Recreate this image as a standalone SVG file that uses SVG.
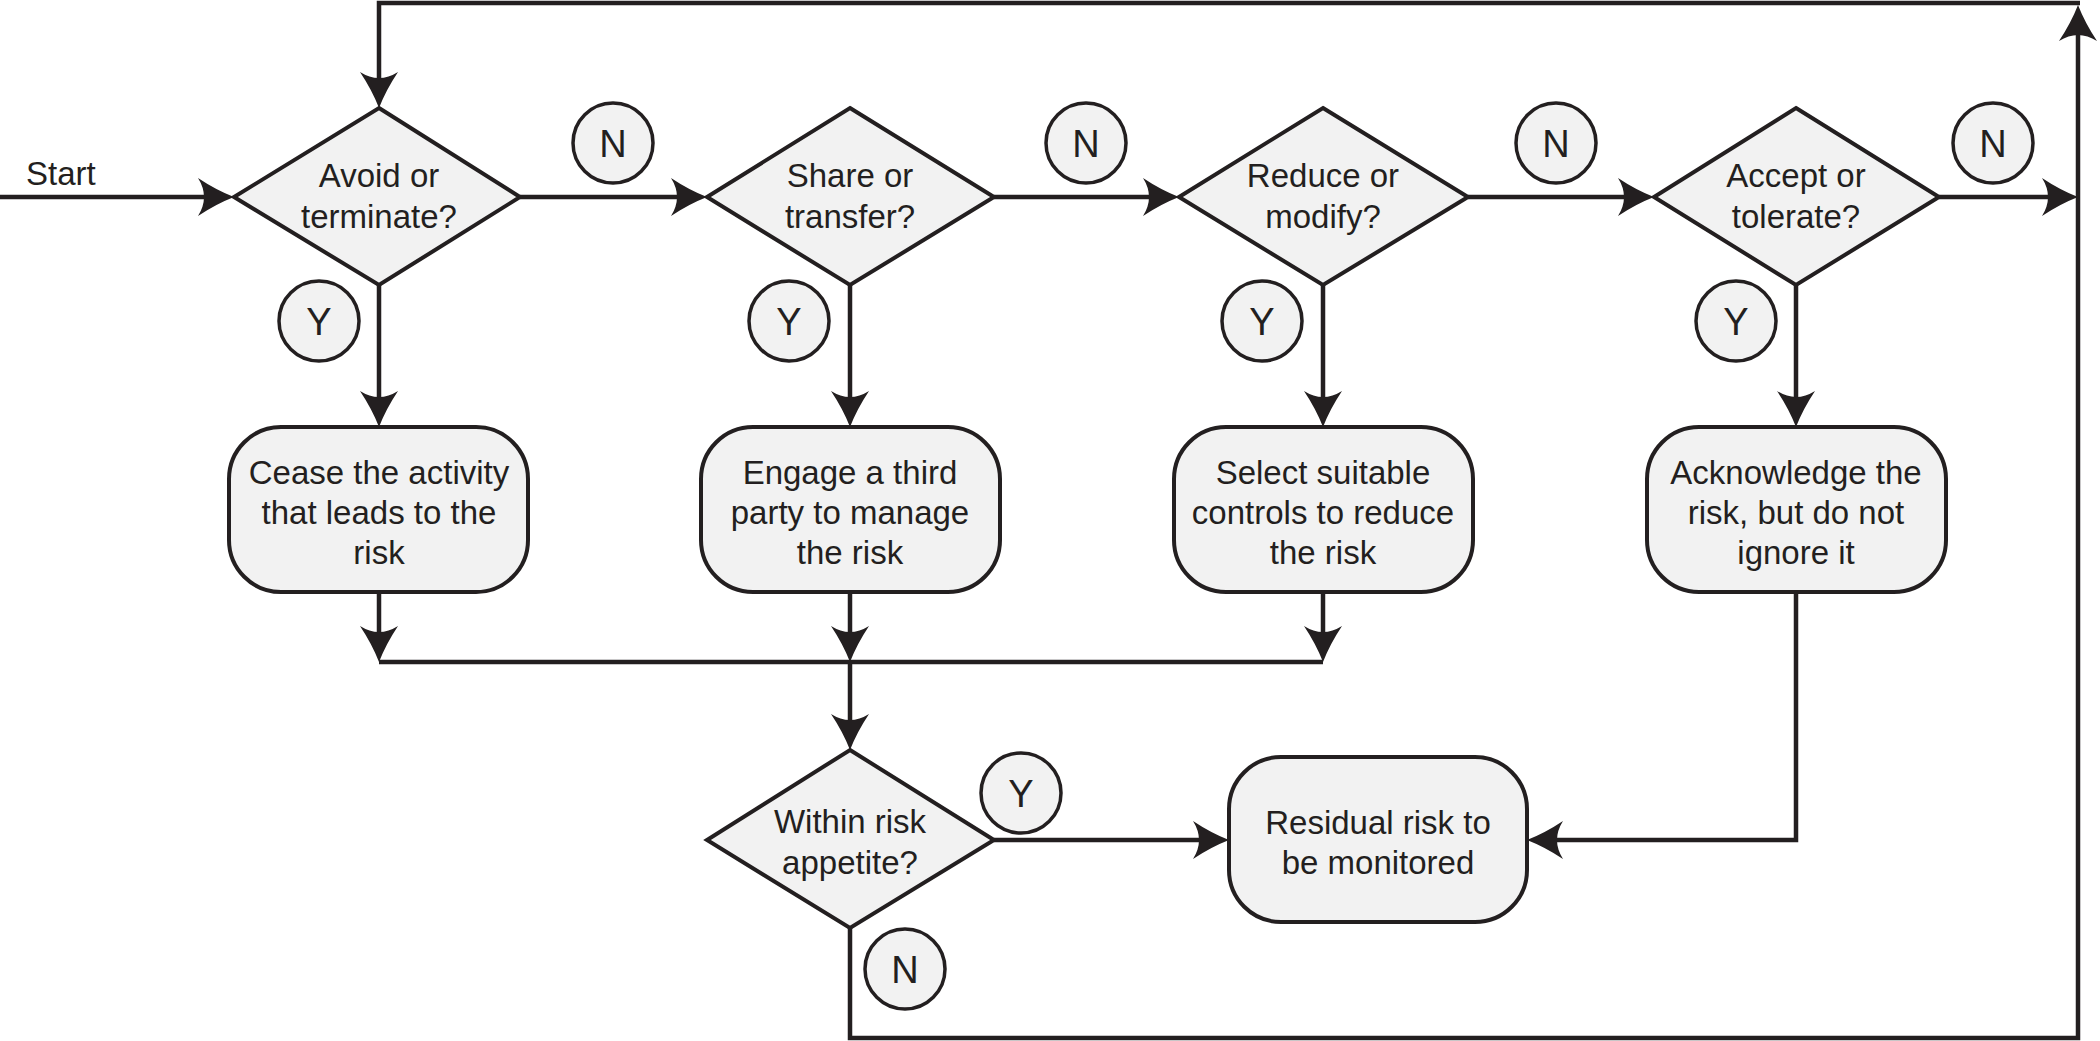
<svg xmlns="http://www.w3.org/2000/svg" width="2100" height="1041" viewBox="0 0 2100 1041">
<style>
.shape{fill:#f2f2f2;stroke:#231f20;stroke-width:4}
.circ{fill:#f2f2f2;stroke:#231f20;stroke-width:3.5}
.conn{fill:none;stroke:#231f20;stroke-width:4.5}
text{font-family:"Liberation Sans",Arial,sans-serif;fill:#231f20;text-anchor:middle}
.lbl{font-size:33px}
.yn{font-size:38px}
</style>
<defs>
<marker id="arr" markerUnits="userSpaceOnUse" markerWidth="60" markerHeight="60" refX="0" refY="0" orient="auto" overflow="visible" viewBox="-40 -30 60 60">
<path d="M10,0 Q-8,-7 -26,-19 Q-14,0 -26,19 Q-8,7 10,0 Z" fill="#231f20"/>
</marker>
</defs>
<rect width="2100" height="1041" fill="#ffffff"/>
<g id="connectors">
<path class="conn" d="M0,197 H224" marker-end="url(#arr)"/>
<path class="conn" d="M520,197 H697" marker-end="url(#arr)"/>
<path class="conn" d="M994,197 H1169" marker-end="url(#arr)"/>
<path class="conn" d="M1468,197 H1644" marker-end="url(#arr)"/>
<path class="conn" d="M1939,197 H2068" marker-end="url(#arr)"/>
<path class="conn" d="M379,285 V417" marker-end="url(#arr)"/>
<path class="conn" d="M850,285 V417" marker-end="url(#arr)"/>
<path class="conn" d="M1323,285 V417" marker-end="url(#arr)"/>
<path class="conn" d="M1796,285 V417" marker-end="url(#arr)"/>
<path class="conn" d="M379,592 V652" marker-end="url(#arr)"/>
<path class="conn" d="M850,592 V652" marker-end="url(#arr)"/>
<path class="conn" d="M1323,592 V652" marker-end="url(#arr)"/>
<path class="conn" d="M379,662 H1323"/>
<path class="conn" d="M850,662 V740" marker-end="url(#arr)"/>
<path class="conn" d="M994,840 H1219" marker-end="url(#arr)"/>
<path class="conn" d="M1796,592 V840 H1537" marker-end="url(#arr)"/>
<path class="conn" d="M850,928 V1038 H2078 V15" marker-end="url(#arr)"/>
<path class="conn" d="M2080,3 H379 V98" marker-end="url(#arr)"/>
</g>
<text class="lbl" x="26" y="185" style="text-anchor:start">Start</text>
<g id="d1">
<polygon class="shape" points="379,108 520,197 379,285 234,197"/>
<text class="lbl" x="379" y="187">Avoid or</text>
<text class="lbl" x="379" y="228">terminate?</text>
</g>
<g id="d2">
<polygon class="shape" points="850,108 994,197 850,285 707,197"/>
<text class="lbl" x="850" y="187">Share or</text>
<text class="lbl" x="850" y="228">transfer?</text>
</g>
<g id="d3">
<polygon class="shape" points="1323,108 1468,197 1323,285 1179,197"/>
<text class="lbl" x="1323" y="187">Reduce or</text>
<text class="lbl" x="1323" y="228">modify?</text>
</g>
<g id="d4">
<polygon class="shape" points="1796,108 1939,197 1796,285 1654,197"/>
<text class="lbl" x="1796" y="187">Accept or</text>
<text class="lbl" x="1796" y="228">tolerate?</text>
</g>
<g id="b1">
<rect class="shape" x="229" y="427" width="299" height="165" rx="52" ry="52"/>
<text class="lbl" x="379" y="484">Cease the activity</text>
<text class="lbl" x="379" y="524">that leads to the</text>
<text class="lbl" x="379" y="564">risk</text>
</g>
<g id="b2">
<rect class="shape" x="701" y="427" width="299" height="165" rx="52" ry="52"/>
<text class="lbl" x="850" y="484">Engage a third</text>
<text class="lbl" x="850" y="524">party to manage</text>
<text class="lbl" x="850" y="564">the risk</text>
</g>
<g id="b3">
<rect class="shape" x="1174" y="427" width="299" height="165" rx="52" ry="52"/>
<text class="lbl" x="1323" y="484">Select suitable</text>
<text class="lbl" x="1323" y="524">controls to reduce</text>
<text class="lbl" x="1323" y="564">the risk</text>
</g>
<g id="b4">
<rect class="shape" x="1647" y="427" width="299" height="165" rx="52" ry="52"/>
<text class="lbl" x="1796" y="484">Acknowledge the</text>
<text class="lbl" x="1796" y="524">risk, but do not</text>
<text class="lbl" x="1796" y="564">ignore it</text>
</g>
<g id="d5">
<polygon class="shape" points="850,750 994,840 850,928 707,840"/>
<text class="lbl" x="850" y="833">Within risk</text>
<text class="lbl" x="850" y="874">appetite?</text>
</g>
<g id="b5">
<rect class="shape" x="1229" y="757" width="298" height="165" rx="52" ry="52"/>
<text class="lbl" x="1378" y="834">Residual risk to</text>
<text class="lbl" x="1378" y="874">be monitored</text>
</g>
<g id="labels">
<g id="n1"><circle class="circ" cx="613" cy="143" r="40"/><text class="yn" x="613" y="157">N</text></g>
<g id="n2"><circle class="circ" cx="1086" cy="143" r="40"/><text class="yn" x="1086" y="157">N</text></g>
<g id="n3"><circle class="circ" cx="1556" cy="143" r="40"/><text class="yn" x="1556" y="157">N</text></g>
<g id="n4"><circle class="circ" cx="1993" cy="143" r="40"/><text class="yn" x="1993" y="157">N</text></g>
<g id="y1"><circle class="circ" cx="319" cy="321" r="40"/><text class="yn" x="319" y="335">Y</text></g>
<g id="y2"><circle class="circ" cx="789" cy="321" r="40"/><text class="yn" x="789" y="335">Y</text></g>
<g id="y3"><circle class="circ" cx="1262" cy="321" r="40"/><text class="yn" x="1262" y="335">Y</text></g>
<g id="y4"><circle class="circ" cx="1736" cy="321" r="40"/><text class="yn" x="1736" y="335">Y</text></g>
<g id="y5"><circle class="circ" cx="1021" cy="793" r="40"/><text class="yn" x="1021" y="807">Y</text></g>
<g id="n5"><circle class="circ" cx="905" cy="969" r="40"/><text class="yn" x="905" y="983">N</text></g>
</g>
</svg>
